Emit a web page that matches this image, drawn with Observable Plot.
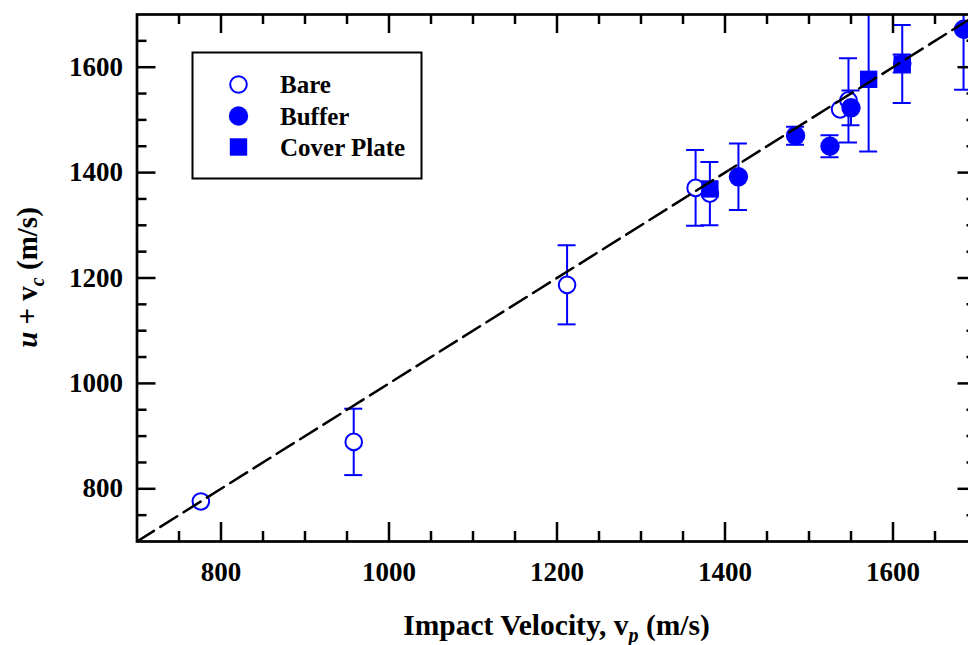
<!DOCTYPE html>
<html>
<head>
<meta charset="utf-8">
<script src="https://cdn.jsdelivr.net/npm/d3@7"></script>
<script src="https://cdn.jsdelivr.net/npm/@observablehq/plot@0.6"></script>
<style>
  html, body { margin: 0; padding: 0; background: #fff; overflow: hidden; }
  #chart svg { display: block; max-width: none !important; }
</style>
</head>
<body>
<div id="chart"></div>
<script>
// Measured points: impact velocity vp (m/s) vs u + vc (m/s), with ± error
const bareX   = [776, 958, 1212, 1365, 1382, 1537, 1547, 1611];
const bareY   = [776, 889, 1187, 1371, 1360, 1520, 1537, 1607];
const bareErr = [0,   63,  75,   72,   60,   0,    80,   17];

const bufferX   = [1416, 1484, 1525, 1550, 1684];
const bufferY   = [1392, 1470, 1450, 1523, 1672];
const bufferErr = [63,   17,   21,   33,   115];

const coverX   = [1382, 1571, 1611];
const coverY   = [1369, 1577, 1606];
const coverErr = [0,    137,  74];

// Reference line u + vc = vp
const refLine = [700, 1700];

// Axis ticks
const xMajor = [800, 1000, 1200, 1400, 1600];
const xMinor = [750, 850, 900, 950, 1050, 1100, 1150, 1250, 1300, 1350, 1450, 1500, 1550, 1650];
const yMajor = [800, 1000, 1200, 1400, 1600];
const yMinor = [750, 850, 900, 950, 1050, 1100, 1150, 1250, 1300, 1350, 1450, 1500, 1550, 1650];

const series = (name, X, Y, E) => X.map((x, i) => ({name, x, y: Y[i], err: E[i]}));
const bare = series("Bare", bareX, bareY, bareErr);
const buffer = series("Buffer", bufferX, bufferY, bufferErr);
const cover = series("Cover Plate", coverX, coverY, coverErr);
const withErr = [...bare, ...buffer, ...cover].filter(d => d.err > 0);
const line = refLine.map(v => ({x: v, y: v}));

const BLUE = "#0000ff";
const FONT = "Liberation Serif, Times New Roman, serif";
const W = 990, H = 645;
const mL = 136.5, mR = 13.5, mT = 14, mB = 104;
const plotW = W - mL - mR, plotH = H - mT - mB;
const MAJ = 19, MIN = 10;

const chart = Plot.plot({
  width: W, height: H,
  marginLeft: mL, marginRight: mR, marginTop: mT, marginBottom: mB,
  style: {fontFamily: FONT, background: "#fff", maxWidth: "none"},
  x: {domain: [700, 1700]},
  y: {domain: [700, 1700]},
  marks: [
    // error bars and caps
    Plot.ruleX(withErr, {x: "x", y1: d => d.y - d.err, y2: d => d.y + d.err, stroke: BLUE, strokeWidth: 2, clip: true}),
    Plot.ruleY(withErr, {y: d => d.y - d.err, x1: "x", x2: "x", insetLeft: -9, insetRight: -9, stroke: BLUE, strokeWidth: 2, clip: true}),
    Plot.ruleY(withErr, {y: d => d.y + d.err, x1: "x", x2: "x", insetLeft: -9, insetRight: -9, stroke: BLUE, strokeWidth: 2, clip: true}),
    // markers
    Plot.dot(bare, {x: "x", y: "y", r: 8.3, fill: "#fff", stroke: BLUE, strokeWidth: 2}),
    Plot.dot(buffer, {x: "x", y: "y", r: 9.7, fill: BLUE, stroke: "none"}),
    Plot.dot(cover, {x: "x", y: "y", r: 9.8, symbol: "square", fill: BLUE, stroke: "none"}),
    // reference line
    Plot.line(line, {x: "x", y: "y", stroke: "#000", strokeWidth: 2.5, strokeDasharray: "20,7.5", clip: true}),
    // inward ticks on all four sides
    Plot.ruleX(xMajor, {x: d => d, insetTop: plotH - MAJ, stroke: "#000", strokeWidth: 2.5}),
    Plot.ruleX(xMinor, {x: d => d, insetTop: plotH - MIN, stroke: "#000", strokeWidth: 2.5}),
    Plot.ruleX(xMajor, {x: d => d, insetBottom: plotH - MAJ, stroke: "#000", strokeWidth: 2.5}),
    Plot.ruleX(xMinor, {x: d => d, insetBottom: plotH - MIN, stroke: "#000", strokeWidth: 2.5}),
    Plot.ruleY(yMajor, {y: d => d, insetRight: plotW - MAJ, stroke: "#000", strokeWidth: 2.5}),
    Plot.ruleY(yMinor, {y: d => d, insetRight: plotW - MIN, stroke: "#000", strokeWidth: 2.5}),
    Plot.ruleY(yMajor, {y: d => d, insetLeft: plotW - MAJ, stroke: "#000", strokeWidth: 2.5}),
    Plot.ruleY(yMinor, {y: d => d, insetLeft: plotW - MIN, stroke: "#000", strokeWidth: 2.5}),
    Plot.frame({stroke: "#000", strokeWidth: 2.7}),
    // tick labels
    Plot.axisX({ticks: xMajor, tickSize: 0, tickPadding: 20, tickFormat: d => `${d}`, label: null,
      fontSize: 27, fontWeight: "bold", fill: "#000"}),
    Plot.axisY({ticks: yMajor, tickSize: 0, tickPadding: 14, tickFormat: d => `${d}`, label: null,
      fontSize: 27, fontWeight: "bold", fill: "#000"})
  ]
});

document.getElementById("chart").appendChild(chart);

// Axis titles with italic subscripts
const svg = d3.select(chart);
const xt = svg.append("text")
  .attr("x", mL + plotW / 2).attr("y", 635)
  .attr("text-anchor", "middle")
  .attr("font-family", FONT).attr("font-size", 29.5).attr("font-weight", "bold").attr("fill", "#000");
xt.append("tspan").text("Impact Velocity, v");
xt.append("tspan").attr("font-style", "italic").attr("font-size", 20).attr("dy", 7).text("p");
xt.append("tspan").attr("dy", -7).text(" (m/s)");

const yt = svg.append("text")
  .attr("transform", `translate(37,${mT + plotH / 2}) rotate(-90)`)
  .attr("text-anchor", "middle")
  .attr("font-family", FONT).attr("font-size", 29).attr("font-weight", "bold").attr("fill", "#000");
yt.append("tspan").attr("font-style", "italic").text("u");
yt.append("tspan").text(" + v");
yt.append("tspan").attr("font-style", "italic").attr("font-size", 20).attr("dy", 7).text("c");
yt.append("tspan").attr("dy", -7).text(" (m/s)");

// Legend
const lg = svg.append("g");
lg.append("rect").attr("x", 192.5).attr("y", 52.5).attr("width", 229).attr("height", 126)
  .attr("fill", "#fff").attr("stroke", "#000").attr("stroke-width", 2);
const entries = [
  {label: "Bare", cy: 84.5},
  {label: "Buffer", cy: 116},
  {label: "Cover Plate", cy: 147}
];
lg.append("circle").attr("cx", 238.5).attr("cy", entries[0].cy).attr("r", 8.3)
  .attr("fill", "#fff").attr("stroke", BLUE).attr("stroke-width", 2);
lg.append("circle").attr("cx", 238.5).attr("cy", entries[1].cy).attr("r", 9.7).attr("fill", BLUE);
lg.append("rect").attr("x", 238.5 - 8.7).attr("y", entries[2].cy - 8.7).attr("width", 17.4).attr("height", 17.4).attr("fill", BLUE);
entries.forEach(e => {
  lg.append("text").attr("x", 280).attr("y", e.cy).attr("dy", "0.34em")
    .attr("text-anchor", "start")
    .attr("font-family", FONT).attr("font-size", 25).attr("font-weight", "bold").attr("fill", "#000")
    .text(e.label);
});
</script>
</body>
</html>
